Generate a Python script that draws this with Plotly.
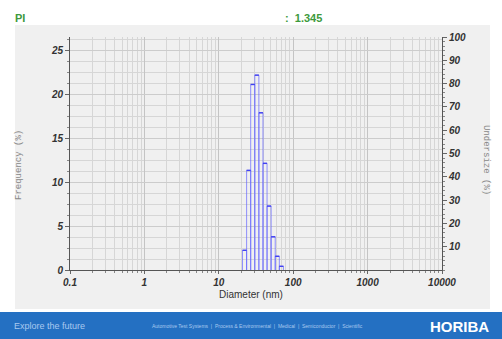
import plotly.graph_objects as go

# ---- data ----
bin_edges_nm = [20.84, 23.65, 26.84, 30.46, 34.57, 39.23, 44.52, 50.53, 57.34, 65.08, 73.85]
frequency_pct = [2.24, 11.33, 21.1, 22.16, 17.88, 12.13, 7.27, 3.78, 1.56, 0.42]
x_tick_vals = [0.1, 1, 10, 100, 1000, 10000]
x_tick_text = ["0.1", "1", "10", "100", "1000", "10000"]
left_tick_vals = [0, 5, 10, 15, 20, 25]
right_tick_vals = [10, 20, 30, 40, 50, 60, 70, 80, 90, 100]
pi_value = "1.345"

W, H = 502, 339
ML, MR, MT, MB = 70, 60, 37, 69
PW, PH = W - ML - MR, H - MT - MB


def px(x):
    return (x - ML) / PW


def py(y):
    return (H - MB - y) / PH


# outline path of histogram bars
ox, oy = [], []
tx, ty = [], []
for i, f in enumerate(frequency_pct):
    a, b = bin_edges_nm[i], bin_edges_nm[i + 1]
    ox += [a, a, b, b, None]
    oy += [0, f, f, 0, None]
    tx += [a, b, None]
    ty += [f, f, None]

fig = go.Figure()
fig.add_trace(go.Scatter(x=ox, y=oy, mode="lines",
                         line=dict(color="rgba(100,100,255,0.7)", width=1),
                         hoverinfo="skip", showlegend=False))
fig.add_trace(go.Scatter(x=tx, y=ty, mode="lines",
                         line=dict(color="rgba(60,60,240,0.95)", width=1.4),
                         hoverinfo="skip", showlegend=False))
fig.add_trace(go.Scatter(x=[1], y=[None], yaxis="y2", mode="lines",
                         hoverinfo="skip", showlegend=False))

tickfont = dict(family="Liberation Sans", size=10, color="#333333",
                weight="bold", style="italic")
gridc = "#d6d6d6"

fig.update_layout(
    width=W, height=H,
    margin=dict(l=ML, r=MR, t=MT, b=MB),
    paper_bgcolor="white",
    plot_bgcolor="white",
    xaxis=dict(type="log", range=[-1, 4], tickvals=x_tick_vals, ticktext=x_tick_text,
               tickfont=tickfont, showgrid=True, gridcolor="#c4c4c4", gridwidth=1,
               ticks="outside", ticklen=3, tickcolor="#666",
               showline=True, linecolor="#555", linewidth=1,
               minor=dict(dtick="D1", showgrid=True, gridcolor=gridc, ticks="outside",
                          ticklen=2, tickcolor="#888"),
               zeroline=False, fixedrange=True),
    yaxis=dict(range=[0, 26.5], tickvals=left_tick_vals, tickfont=tickfont,
               showgrid=True, gridcolor="#cccccc", ticks="outside", ticklen=4,
               tickcolor="#666", showline=True, linecolor="#555", linewidth=1,
               minor=dict(dtick=1.25, showgrid=True, gridcolor=gridc, ticks="outside",
                          ticklen=2, tickcolor="#888"),
               zeroline=False, fixedrange=True),
    yaxis2=dict(range=[0, 100], overlaying="y", side="right", tickvals=right_tick_vals,
                tickfont=tickfont, showgrid=False, ticks="outside", ticklen=4,
                tickcolor="#666", showline=True, linecolor="#555", linewidth=1,
                minor=dict(dtick=2, ticks="outside", ticklen=2, tickcolor="#888"),
                zeroline=False, fixedrange=True),
    shapes=[
        dict(type="rect", xref="paper", yref="paper", layer="below",
             x0=px(15), x1=px(490), y0=py(309), y1=py(25),
             fillcolor="#f0f0f0", line=dict(width=0)),
        dict(type="rect", xref="paper", yref="paper", layer="below",
             x0=px(0), x1=px(W), y0=py(H), y1=py(312),
             fillcolor="#2470c2", line=dict(width=0)),
    ],
    annotations=[
        dict(text="PI", xref="paper", yref="paper", x=px(13), y=py(18),
             xanchor="left", yanchor="middle", showarrow=False,
             font=dict(family="Liberation Sans", size=11, color="#3d9a3d", weight="bold")),
        dict(text=":  " + pi_value, xref="paper", yref="paper", x=px(283), y=py(18),
             xanchor="left", yanchor="middle", showarrow=False,
             font=dict(family="Liberation Sans", size=11, color="#3d9a3d", weight="bold")),
        dict(text="Frequency (%)", xref="paper", yref="paper", x=px(19), y=py(165),
             xanchor="center", yanchor="middle", textangle=-90, showarrow=False,
             font=dict(family="Liberation Mono", size=9, color="#888888")),
        dict(text="Undersize (%)", xref="paper", yref="paper", x=px(486), y=py(160),
             xanchor="center", yanchor="middle", textangle=90, showarrow=False,
             font=dict(family="Liberation Mono", size=9, color="#888888")),
        dict(text="Diameter (nm)", xref="paper", yref="paper", x=px(251), y=py(294),
             xanchor="center", yanchor="middle", showarrow=False,
             font=dict(family="Liberation Sans", size=10, color="#333333")),
        dict(text="Explore the future", xref="paper", yref="paper", x=px(12), y=py(326),
             xanchor="left", yanchor="middle", showarrow=False,
             font=dict(family="Liberation Sans", size=9, color="#a9c9ef")),
        dict(text="Automotive Test Systems  |  Process & Environmental  |  Medical  |  Semiconductor  |  Scientific",
             xref="paper", yref="paper", x=px(150), y=py(326),
             xanchor="left", yanchor="middle", showarrow=False,
             font=dict(family="Liberation Sans", size=5, color="#a9c9ef")),
        dict(text="HORIBA", xref="paper", yref="paper", x=px(491), y=py(326),
             xanchor="right", yanchor="middle", showarrow=False,
             font=dict(family="Liberation Sans", size=15, color="white", weight="bold")),
    ],
)

fig.write_html("out.html", config={"displayModeBar": False},
               post_script="document.body.style.margin='0';document.body.style.overflow='hidden';")
